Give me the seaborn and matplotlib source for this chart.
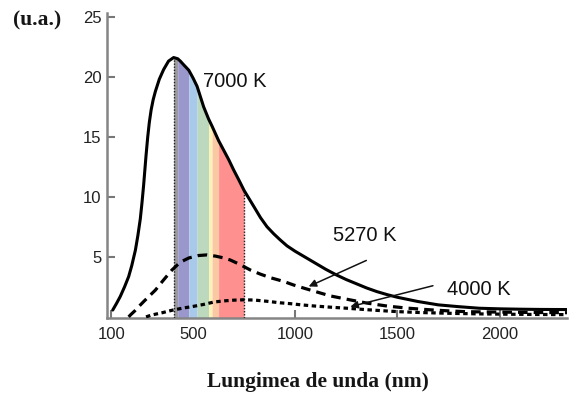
import numpy as np
import pandas as pd
import matplotlib
matplotlib.use("Agg")
import matplotlib.pyplot as plt
import seaborn as sns

# ---- data ----
wl_7000 = [107, 125, 144, 165, 185, 200, 218, 230, 242, 250, 258, 264, 270, 278, 286, 295,
           305, 316, 335, 356, 380, 405, 425, 438, 454, 479, 500, 520, 552, 576, 593, 601,
           625, 650, 675, 699, 725, 750, 775, 800, 830, 862, 895, 927, 960, 1000, 1050,
           1100, 1150, 1200, 1250, 1300, 1350, 1400, 1450, 1500, 1600, 1700, 1800, 1900,
           2000, 2100, 2200, 2330]
val_7000 = [0.62, 1.15, 1.75, 2.55, 3.4, 4.3, 5.6, 6.8, 8.2, 9.5, 10.95, 12.2, 13.45, 14.95,
            16.2, 17.25, 18.1, 18.8, 19.8, 20.6, 21.3, 21.6, 21.5, 21.3, 21.0, 20.55, 19.9,
            19.2, 17.5, 16.5, 15.9, 15.6, 14.7, 13.9, 13.1, 12.25, 11.4, 10.55, 9.85, 9.15,
            8.3, 7.54, 6.95, 6.44, 5.95, 5.5, 5.0, 4.5, 4.0, 3.55, 3.15, 2.8, 2.45, 2.15,
            1.9, 1.68, 1.33, 1.05, 0.9, 0.77, 0.72, 0.69, 0.67, 0.66]

wl_5270 = [185, 193, 215, 234, 260, 290, 316, 350, 397, 438, 480, 527, 568, 610, 650, 682,
           730, 780, 830, 880, 943, 992, 1050, 1100, 1170, 1270, 1350, 1450, 1547, 1650,
           1750, 1840, 2000, 2150, 2330]
val_5270 = [0.05, 0.2, 0.55, 0.9, 1.35, 1.85, 2.28, 3.0, 3.95, 4.6, 4.95, 5.15, 5.2, 5.1,
            4.95, 4.78, 4.4, 3.95, 3.6, 3.3, 3.0, 2.7, 2.4, 2.15, 1.8, 1.46, 1.2, 0.95, 0.78,
            0.65, 0.55, 0.48, 0.45, 0.42, 0.4]

wl_4000 = [270, 296, 350, 402, 450, 500, 550, 601, 650, 700, 748, 800, 860, 927, 976, 1030,
           1090, 1170, 1253, 1350, 1420, 1498, 1600, 1750, 1900, 2050, 2200, 2330]
val_4000 = [0.05, 0.2, 0.4, 0.62, 0.78, 0.92, 1.08, 1.28, 1.38, 1.44, 1.47, 1.45, 1.35, 1.22,
            1.15, 1.05, 0.96, 0.86, 0.77, 0.65, 0.57, 0.49, 0.42, 0.35, 0.3, 0.27, 0.25, 0.24]

band_edges = [405, 425, 479, 520, 576, 593, 625, 750]
band_colors = ["#9c9a9e", "#9997cb", "#a8c9ea", "#bdd9bd", "#fcf2b8", "#fac9a4", "#fe9090"]

x_ticks = [100, 500, 1000, 1500, 2000]
y_ticks = [5, 10, 15, 20, 25]

labels = ["7000 K", "5270 K", "4000 K"]
label_pos = [(550, 19.6), (1186, 6.8), (1743, 2.3)]
arrows = [((1066, 2.58), (1348, 4.74)), ((1270, 0.9), (1674, 2.64))]

# ---- plot ----
sns.set_style("ticks")
plt.rcParams["font.family"] = ["Liberation Sans", "DejaVu Sans"]

W, H = 569, 394
fig = plt.figure(figsize=(W / 100, H / 100), dpi=100)
ax = fig.add_axes([107 / W, 1 - 317.5 / H, (567 - 107) / W, (317.5 - 13) / H])

wl7 = np.array(wl_7000)
v7 = np.array(val_7000)
for i in range(len(band_edges) - 1):
    a, b = band_edges[i], band_edges[i + 1]
    m = (wl7 >= a) & (wl7 <= b)
    ax.fill_between(wl7[m], 0, v7[m], color=band_colors[i], lw=0, zorder=1)

# dotted edges of the visible band
edge_vals = [v7[wl7 == band_edges[0]][0], v7[wl7 == band_edges[-1]][0]]
ax.vlines([band_edges[0], band_edges[-1]], 0, edge_vals, color="#222222", lw=1.0,
          linestyles=(0, (1, 1.2)), zorder=3)

df7 = pd.DataFrame({"wl": wl_7000, "v": val_7000})
df5 = pd.DataFrame({"wl": wl_5270, "v": val_5270})
df4 = pd.DataFrame({"wl": wl_4000, "v": val_4000})
sns.lineplot(data=df7, x="wl", y="v", ax=ax, color="black", lw=2.2, zorder=5)
sns.lineplot(data=df5, x="wl", y="v", ax=ax, color="black", lw=2.3,
             linestyle=(0, (3.0, 1.9)), zorder=5)
sns.lineplot(data=df4, x="wl", y="v", ax=ax, color="black", lw=2.3,
             linestyle=(0, (1.4, 1.1)), zorder=5)

for t, (x, y) in zip(labels, label_pos):
    ax.text(x, y, t, fontsize=14.5, va="center", ha="left", color="#111111", zorder=6)
for head, tail in arrows:
    ax.annotate("", xy=head, xytext=tail,
                arrowprops=dict(arrowstyle="-|>", color="#111111", lw=1.1,
                                mutation_scale=11, shrinkA=0, shrinkB=0), zorder=6)

ax.set_xlim(79, 2330)
ax.set_ylim(0, 25.3)
ax.set_xticks(x_ticks)
ax.set_yticks(y_ticks)
ax.set_xlabel("")
ax.set_ylabel("")
sns.despine(ax=ax)
for s in ["left", "bottom"]:
    ax.spines[s].set_color("#858585")
    ax.spines[s].set_linewidth(1.8)
ax.tick_params(direction="in", length=6, width=1.5, color="#777777",
               labelsize=12, labelcolor="#222222")
ax.tick_params(axis="x", pad=7)
ax.tick_params(axis="y", pad=4)

fig.text(13 / W, 1 - 20 / H, "(u.a.)", fontsize=15.5, fontweight="bold",
         family=["Liberation Serif", "DejaVu Serif"], va="center", ha="left", color="#151515")
fig.text(317.5 / W, 1 - 382 / H, "Lungimea de unda (nm)", fontsize=15.5, fontweight="bold",
         family=["Liberation Serif", "DejaVu Serif"], va="center", ha="center", color="#151515")

fig.savefig("out.png", dpi=100)
